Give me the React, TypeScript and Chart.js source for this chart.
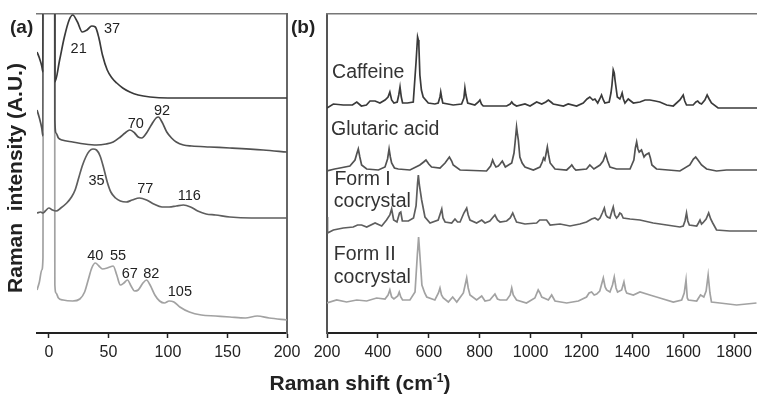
import React, { useEffect, useRef } from "react";
import { Chart, registerables } from "chart.js";

Chart.register(...registerables);

type Pt = [number, number];

// ---------------- data: panel (a) low-frequency Raman ----------------
const LOW_X_TICKS = [0, 50, 100, 150, 200];

const LF_CAFFEINE: Pt[] = [
  [-10, 281], [-8, 275], [-6, 267], [-5, 261], [-4, 2000], [4, 2000], [5, 251], [9, 273],
  [13, 296], [17, 313], [20, 318], [24, 311], [28, 301], [32, 303], [36, 307], [39, 306],
  [42, 295], [45, 278], [49, 263], [53, 255], [57, 250], [62, 245], [68, 241], [75, 238],
  [85, 236], [100, 235], [150, 235], [200, 235],
];

const LF_GLUTARIC: Pt[] = [
  [-10, 223], [-8, 215], [-6, 205], [-5, 197], [-4, 2000], [4, 2000], [5, 213], [6, 200],
  [8, 195], [11, 193], [20, 191], [30, 189], [40, 188], [48, 189], [54, 191], [60, 196],
  [64, 200], [68, 203], [72, 200], [75, 196], [78, 195], [82, 200], [86, 208], [90, 215],
  [92, 216], [95, 211], [99, 201], [103, 195], [107, 191], [113, 188], [120, 187], [135, 186],
  [152, 185], [180, 183], [200, 181],
];

const LF_FORM1: Pt[] = [
  [-10, 120], [-7, 121], [-5, 120], [-3, 122], [0, 125], [3, 123], [6, 122], [10, 125],
  [15, 130], [19, 136], [22, 143], [25, 155], [28, 167], [31, 176], [34, 182], [37, 184],
  [40, 183], [43, 177], [46, 165], [49, 151], [52, 141], [56, 135], [60, 132], [65, 131],
  [70, 133], [76, 135], [82, 133], [88, 129], [95, 126], [101, 126], [107, 127], [113, 128],
  [119, 126], [125, 122], [132, 119], [140, 118], [152, 116], [170, 115], [200, 115],
];

const LF_FORM2: Pt[] = [
  [-10, 43], [-8, 51], [-6, 63], [-5, 75], [-4, 2000], [4, 2000], [5, 48], [6, 40],
  [8, 35], [12, 33], [20, 32], [26, 34], [30, 41], [33, 53], [36, 65], [39, 70],
  [42, 67], [45, 64], [49, 65], [51, 66], [54, 67], [57, 58], [60, 48], [63, 50],
  [66, 53], [69, 47], [72, 42], [75, 43], [79, 50], [82, 53], [85, 48], [89, 38],
  [93, 32], [97, 30], [101, 32], [105, 31], [110, 26], [118, 21], [128, 18], [140, 17],
  [152, 16], [165, 15], [175, 17], [185, 15], [200, 13],
];

const LF_PEAKS = [
  { text: "21", x: 25, y: 284 }, { text: "37", x: 53, y: 304 },
  { text: "70", x: 73, y: 209 }, { text: "92", x: 95, y: 222 },
  { text: "35", x: 40, y: 152 }, { text: "77", x: 81, y: 144 }, { text: "116", x: 118, y: 137 },
  { text: "40", x: 39, y: 77 }, { text: "55", x: 58, y: 77 },
  { text: "67", x: 68, y: 59 }, { text: "82", x: 86, y: 59 }, { text: "105", x: 110, y: 41.5 },
];

// ---------------- data: panel (b) mid-frequency Raman ----------------
const HIGH_X_TICKS = [200, 400, 600, 800, 1000, 1200, 1400, 1600, 1800];

const CAFFEINE: Pt[] = [
  [200, 225], [225, 229], [264, 228], [300, 228], [317, 231], [335, 227], [355, 228], [369, 232],
  [380, 232], [389, 232], [408, 230], [428, 233], [440, 236], [447, 241], [454, 233], [463, 230],
  [476, 231], [482, 238], [487, 246], [492, 236], [497, 230], [516, 230], [539, 231], [550, 271],
  [556, 296], [559, 293], [561, 288], [565, 258], [571, 243], [578, 236], [598, 230], [624, 229],
  [637, 230], [644, 236], [647, 241], [651, 235], [655, 230], [696, 228], [729, 229], [738, 235],
  [742, 245], [746, 238], [753, 230], [781, 228], [795, 231], [801, 233], [807, 229], [814, 227],
  [906, 227], [920, 229], [926, 231], [932, 229], [945, 227], [978, 229], [998, 227], [1024, 231],
  [1044, 229], [1060, 231], [1070, 233], [1080, 231], [1089, 229], [1129, 227], [1148, 229],
  [1181, 227], [1207, 230], [1222, 234], [1233, 236], [1245, 233], [1253, 234], [1264, 230],
  [1272, 234], [1279, 238], [1286, 233], [1292, 230], [1309, 231], [1316, 240], [1320, 248],
  [1325, 263], [1329, 260], [1332, 253], [1341, 236], [1351, 234], [1356, 237], [1360, 240],
  [1365, 234], [1371, 230], [1384, 234], [1404, 230], [1430, 231], [1450, 233], [1469, 233],
  [1490, 232], [1508, 231], [1535, 228], [1561, 227], [1587, 233], [1600, 238], [1606, 232],
  [1613, 228], [1639, 228], [1650, 231], [1657, 232], [1664, 230], [1672, 229], [1685, 233],
  [1694, 238], [1702, 234], [1711, 230], [1737, 225], [1783, 225], [1890, 225],
];

const GLUTARIC: Pt[] = [
  [200, 162], [230, 164], [251, 165], [290, 167], [310, 173], [318, 180], [323, 184], [329, 176],
  [336, 168], [356, 164], [402, 163], [428, 166], [438, 174], [444, 184], [449, 176], [454, 170],
  [465, 165], [480, 164], [526, 163], [565, 168], [580, 171], [589, 173], [600, 169], [611, 166],
  [644, 165], [664, 170], [681, 176], [690, 172], [696, 168], [723, 163], [827, 162], [843, 167],
  [851, 173], [857, 169], [864, 166], [873, 167], [880, 169], [889, 172], [895, 169], [901, 166],
  [926, 170], [935, 180], [939, 190], [945, 206], [949, 198], [952, 193], [958, 176], [967, 170],
  [978, 166], [1011, 163], [1037, 166], [1046, 171], [1051, 175], [1056, 173], [1060, 178],
  [1066, 186], [1071, 178], [1077, 170], [1096, 164], [1142, 163], [1155, 166], [1162, 168],
  [1170, 165], [1178, 163], [1220, 164], [1233, 168], [1249, 164], [1273, 168], [1285, 172],
  [1295, 179], [1303, 172], [1312, 166], [1338, 164], [1391, 164], [1406, 173], [1412, 185],
  [1417, 191], [1422, 184], [1427, 181], [1436, 183], [1446, 176], [1452, 178], [1458, 179],
  [1465, 180], [1471, 175], [1477, 168], [1495, 164], [1587, 162], [1626, 168], [1640, 174],
  [1649, 176], [1658, 173], [1672, 168], [1692, 164], [1731, 162], [1770, 163], [1890, 163],
];

const FORM1: Pt[] = [
  [200, 116], [202, 100], [225, 103], [264, 105], [303, 106], [320, 108], [336, 108], [356, 106],
  [389, 110], [415, 107], [434, 113], [447, 118], [454, 124], [462, 113], [475, 111], [485, 120],
  [490, 121], [496, 112], [520, 112], [540, 115], [550, 127], [556, 150], [559, 158], [563, 148],
  [572, 133], [585, 116], [605, 110], [637, 113], [646, 120], [651, 124], [656, 115], [664, 111],
  [690, 110], [703, 114], [713, 111], [723, 111], [738, 120], [749, 125], [755, 118], [762, 113],
  [788, 110], [808, 113], [821, 110], [840, 112], [850, 115], [860, 118], [870, 113], [880, 111],
  [906, 112], [920, 115], [930, 120], [938, 115], [945, 111], [978, 109], [1024, 110], [1036, 113],
  [1044, 113], [1063, 113], [1077, 108], [1116, 109], [1155, 107], [1194, 109], [1220, 111],
  [1240, 114], [1253, 115], [1265, 113], [1273, 115], [1282, 120], [1290, 125], [1296, 118],
  [1302, 116], [1312, 115], [1320, 122], [1325, 126], [1331, 118], [1338, 115], [1345, 117],
  [1351, 120], [1357, 119], [1364, 115], [1391, 114], [1430, 113], [1482, 110], [1535, 108],
  [1587, 106], [1600, 107], [1607, 112], [1613, 120], [1618, 112], [1624, 108], [1653, 107],
  [1660, 110], [1666, 113], [1672, 109], [1677, 110], [1690, 114], [1700, 120], [1708, 114],
  [1716, 110], [1731, 103], [1783, 102], [1890, 102],
];

const FORM2: Pt[] = [
  [200, 30], [238, 33], [277, 31], [317, 33], [356, 32], [395, 35], [428, 34], [440, 38],
  [447, 43], [454, 36], [463, 34], [478, 37], [484, 41], [490, 36], [497, 33], [526, 33],
  [546, 41], [555, 78], [560, 96], [565, 78], [573, 48], [584, 40], [592, 36], [624, 33],
  [638, 40], [644, 45], [650, 38], [657, 35], [677, 31], [694, 36], [710, 31], [736, 40],
  [749, 55], [755, 45], [762, 38], [788, 33], [808, 37], [821, 32], [840, 33], [860, 39],
  [870, 34], [880, 33], [906, 33], [920, 38], [926, 45], [932, 38], [945, 33], [984, 30],
  [1017, 35], [1030, 43], [1037, 40], [1044, 36], [1070, 33], [1083, 38], [1096, 32], [1142, 30],
  [1188, 32], [1220, 36], [1230, 40], [1240, 41], [1250, 38], [1260, 39], [1272, 42], [1286, 55],
  [1293, 46], [1299, 43], [1312, 41], [1322, 48], [1329, 56], [1336, 45], [1342, 41], [1358, 43],
  [1367, 51], [1373, 43], [1378, 40], [1404, 38], [1430, 41], [1469, 38], [1508, 35], [1561, 31],
  [1594, 33], [1604, 40], [1611, 53], [1616, 35], [1620, 33], [1653, 32], [1668, 38], [1681, 36],
  [1690, 42], [1698, 58], [1705, 40], [1711, 31], [1744, 30], [1810, 28], [1888, 30],
];

const SAMPLE_LABELS = [
  { text: "Caffeine", x: 220, y: 260 },
  { text: "Glutaric acid", x: 216, y: 203 },
  { text: "Form I", x: 229, y: 153 },
  { text: "cocrystal", x: 227, y: 131 },
  { text: "Form II", x: 227, y: 78 },
  { text: "cocrystal", x: 227, y: 55 },
];

// ---------------- styling ----------------
const FONT = '"Liberation Sans", Arial, Helvetica, sans-serif';
const COLORS = ["#3a3a3a", "#525252", "#5e5e5e", "#a2a2a2"];
const Y_MAX = 319;

function makeTextPlugin(items: { text: string; x: number; y: number }[], font: string, color: string, align: CanvasTextAlign) {
  return {
    id: "annot",
    afterDatasetsDraw(chart: any) {
      const { ctx } = chart;
      const xs = chart.scales.x;
      const ys = chart.scales.y;
      ctx.save();
      ctx.font = font;
      ctx.fillStyle = color;
      ctx.textAlign = align;
      ctx.textBaseline = "middle";
      items.forEach((a) => ctx.fillText(a.text, xs.getPixelForValue(a.x), ys.getPixelForValue(a.y)));
      ctx.restore();
    },
  };
}

function toDatasets(series: Pt[][], smooth: boolean) {
  return series.map((s, i) => ({
    data: s.map(([x, y]) => ({ x, y })),
    borderColor: COLORS[i],
    borderWidth: 1.7,
    pointRadius: 0,
    fill: false,
    cubicInterpolationMode: smooth ? ("monotone" as const) : ("default" as const),
    tension: 0,
  }));
}

function bottomAxis(min: number, max: number, ticks: number[]) {
  return {
    type: "linear" as const,
    position: "bottom" as const,
    min,
    max,
    afterBuildTicks: (s: any) => {
      s.ticks = ticks.map((v) => ({ value: v }));
    },
    afterFit: (s: any) => {
      s.height = 40;
    },
    grid: { display: true, drawOnChartArea: false, drawTicks: true, tickLength: 5, tickColor: "#222", tickWidth: 1.5 },
    border: { display: true, color: "#222", width: 2 },
    ticks: {
      font: { family: FONT, size: 16 },
      color: "#222",
      padding: 5,
      maxRotation: 0,
      autoSkip: false,
      callback: (v: any) => String(v),
    },
  };
}

function frameAxis(position: "top" | "right" | "left", min: number, max: number, color: string, width: number) {
  return {
    type: "linear" as const,
    position,
    min,
    max,
    ticks: { display: false },
    grid: { display: false },
    border: { display: true, color, width },
    afterFit: (s: any) => {
      if (position === "top") s.height = 0;
      else s.width = 0;
    },
  };
}

export default function App() {
  const refA = useRef<HTMLCanvasElement>(null);
  const refB = useRef<HTMLCanvasElement>(null);

  useEffect(() => {
    const chartA = new Chart(refA.current as HTMLCanvasElement, {
      type: "line",
      data: { datasets: toDatasets([LF_CAFFEINE, LF_GLUTARIC, LF_FORM1, LF_FORM2], true) as any },
      options: {
        animation: false,
        responsive: false,
        maintainAspectRatio: false,
        layout: { padding: { left: 37, right: 33, top: 14, bottom: 25 } },
        plugins: { legend: { display: false }, tooltip: { enabled: false } },
        scales: {
          x: bottomAxis(-10, 200, LOW_X_TICKS),
          y: { type: "linear", min: 0, max: Y_MAX, display: false },
          xt: frameAxis("top", -10, 200, "#777", 1.5),
          yr: frameAxis("right", 0, Y_MAX, "#666", 2),
        } as any,
      },
      plugins: [makeTextPlugin(LF_PEAKS, `14.5px ${FONT}`, "#222", "center")],
    });

    const chartB = new Chart(refB.current as HTMLCanvasElement, {
      type: "line",
      data: { datasets: toDatasets([CAFFEINE, GLUTARIC, FORM1, FORM2], false) as any },
      options: {
        animation: false,
        responsive: false,
        maintainAspectRatio: false,
        layout: { padding: { left: 37, right: 0, top: 14, bottom: 25 } },
        plugins: { legend: { display: false }, tooltip: { enabled: false } },
        scales: {
          x: bottomAxis(200, 1890, HIGH_X_TICKS),
          y: frameAxis("left", 0, Y_MAX, "#555", 2),
          xt: frameAxis("top", 200, 1890, "#777", 1.5),
        } as any,
      },
      plugins: [makeTextPlugin(SAMPLE_LABELS, `19.5px ${FONT}`, "#333", "left")],
    });

    return () => {
      chartA.destroy();
      chartB.destroy();
    };
  }, []);

  return (
    <div
      style={{
        position: "fixed",
        left: 0,
        top: 0,
        width: 757,
        height: 398,
        background: "#fff",
        overflow: "hidden",
        fontFamily: FONT,
        color: "#222",
      }}
    >
      <canvas ref={refA} width={320} height={398} style={{ position: "absolute", left: 0, top: 0, width: 320, height: 398 }} />
      <canvas ref={refB} width={467} height={398} style={{ position: "absolute", left: 290, top: 0, width: 467, height: 398 }} />
      <div style={{ position: "absolute", left: 10, top: 15, fontSize: 19, fontWeight: "bold", lineHeight: "24px" }}>(a)</div>
      <div style={{ position: "absolute", left: 291, top: 15, fontSize: 19, fontWeight: "bold", lineHeight: "24px" }}>(b)</div>
      <div
        style={{
          position: "absolute",
          left: 15 - 150,
          top: 178 - 13,
          width: 300,
          height: 26,
          lineHeight: "26px",
          textAlign: "center",
          fontSize: 21,
          fontWeight: "bold",
          whiteSpace: "pre",
          transform: "rotate(-90deg)",
          transformOrigin: "50% 50%",
        }}
      >
        {"Raman  intensity (A.U.)"}
      </div>
      <div
        style={{
          position: "absolute",
          left: 160,
          top: 370,
          width: 400,
          lineHeight: "26px",
          textAlign: "center",
          fontSize: 21,
          fontWeight: "bold",
        }}
      >
        Raman shift (cm<sup style={{ fontSize: 12, verticalAlign: "8px", lineHeight: 0 }}>-1</sup>)
      </div>
    </div>
  );
}
